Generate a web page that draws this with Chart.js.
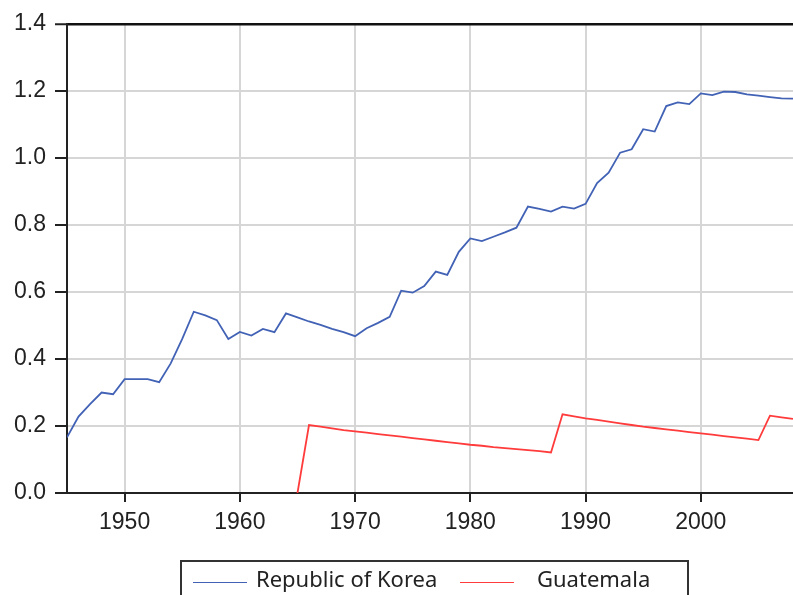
<!DOCTYPE html>
<html>
<head>
<meta charset="utf-8">
<script src="https://cdn.jsdelivr.net/npm/chart.js@4/dist/chart.umd.min.js"></script>
<style>
	html, body { margin: 0; padding: 0; background: #fff; }
	#wrap { position: relative; width: 793px; height: 595px; overflow: hidden; }
	#legend {
		position: absolute; left: 180px; top: 560px; width: 509px; height: 50px;
		border: 2px solid #333; box-sizing: border-box;
		font-family: "Noto Sans", sans-serif; font-size: 22px; color: #222;
	}
	#legend .line { position: absolute; top: 20px; height: 0; border-top: 1.5px solid; width: 54px; }
	#legend .txt { position: absolute; top: 1px; white-space: nowrap; }
</style>
</head>
<body>
<div id="wrap">
	<canvas id="chart" width="793" height="595"></canvas>
	<div id="legend">
		<div class="line" style="left:11px;border-color:#4262b5"></div>
		<div class="txt" style="left:74px">Republic of Korea</div>
		<div class="line" style="left:278px;border-color:#ff3b3b"></div>
		<div class="txt" style="left:355px">Guatemala</div>
	</div>
</div>
<script>
const years = [];
for(let y = 1945; y <= 2008; y++)
	years.push(y);

const korea = [
	0.166, 0.228, 0.265, 0.300, 0.295, 0.340, 0.340, 0.340, 0.331, 0.387,
	0.460, 0.541, 0.530, 0.516, 0.460, 0.481, 0.470, 0.490, 0.480, 0.536,
	0.524, 0.512, 0.502, 0.490, 0.480, 0.468, 0.492, 0.508, 0.526, 0.604,
	0.598, 0.618, 0.661, 0.651, 0.720, 0.760, 0.752, 0.765, 0.778, 0.792,
	0.855, 0.848, 0.840, 0.855, 0.849, 0.863, 0.925, 0.956, 1.016, 1.026,
	1.086, 1.079, 1.155, 1.166, 1.161, 1.193, 1.188, 1.198, 1.197, 1.190,
	1.186, 1.182, 1.178, 1.177
];

const guatemala = [
	null, null, null, null, null, null, null, null, null, null,
	null, null, null, null, null, null, null, null, null, null,
	0.000, 0.203, 0.198, 0.193, 0.188, 0.184, 0.180, 0.176, 0.172, 0.168,
	0.164, 0.160, 0.156, 0.152, 0.148, 0.144, 0.141, 0.137, 0.134, 0.131,
	0.128, 0.125, 0.121, 0.235, 0.229, 0.223, 0.218, 0.213, 0.208, 0.203,
	0.198, 0.194, 0.190, 0.186, 0.182, 0.178, 0.174, 0.170, 0.166, 0.162,
	0.158, 0.231, 0.226, 0.221
];

const xTicks = [1950, 1960, 1970, 1980, 1990, 2000];

function toPoints(values) {
	return years.map(function(yr, i) {
		return {x: yr, y: values[i]};
	});
}

const tickFont = {family: "'Liberation Sans', Arial, sans-serif", size: 23};
const gridGray = "#d6d6d6";

new Chart(document.getElementById("chart").getContext("2d"), {
	type: "line",
	data: {
		datasets: [
			{
				label: "Republic of Korea",
				data: toPoints(korea),
				borderColor: "#4262b5",
				borderWidth: 1.8,
				pointRadius: 0,
				tension: 0
			},
			{
				label: "Guatemala",
				data: toPoints(guatemala),
				borderColor: "#ff3b3b",
				borderWidth: 1.8,
				pointRadius: 0,
				tension: 0,
				spanGaps: false
			}
		]
	},
	options: {
		responsive: false,
		animation: false,
		layout: {padding: {top: 24, left: 0, right: 0, bottom: 0}},
		plugins: {
			legend: {display: false},
			tooltip: {enabled: false}
		},
		scales: {
			x: {
				type: "linear",
				min: 1945,
				max: 2008,
				afterBuildTicks: function(scale) {
					scale.ticks = xTicks.map(function(v) { return {value: v}; });
				},
				afterFit: function(scale) {
					scale.height = 102;
				},
				ticks: {
					font: tickFont,
					color: "#222",
					padding: 7,
					maxRotation: 0,
					callback: function(v) { return String(v); }
				},
				grid: {
					color: gridGray,
					lineWidth: 2,
					tickColor: "#222",
					tickWidth: 2,
					tickLength: 9
				},
				border: {color: "#222", width: 2}
			},
			y: {
				min: 0,
				max: 1.4,
				afterFit: function(scale) {
					scale.width = 67;
				},
				ticks: {
					stepSize: 0.2,
					font: tickFont,
					color: "#222",
					padding: 9,
					callback: function(v) { return v.toFixed(1); }
				},
				grid: {
					color: function(ctx) {
						return (ctx.tick && ctx.tick.value > 1.39) ? "#111" : gridGray;
					},
					lineWidth: function(ctx) {
						return (ctx.tick && ctx.tick.value > 1.39) ? 2.5 : 2;
					},
					tickColor: "#222",
					tickWidth: 2,
					tickLength: 12
				},
				border: {color: "#222", width: 2}
			}
		}
	}
});
</script>
</body>
</html>
